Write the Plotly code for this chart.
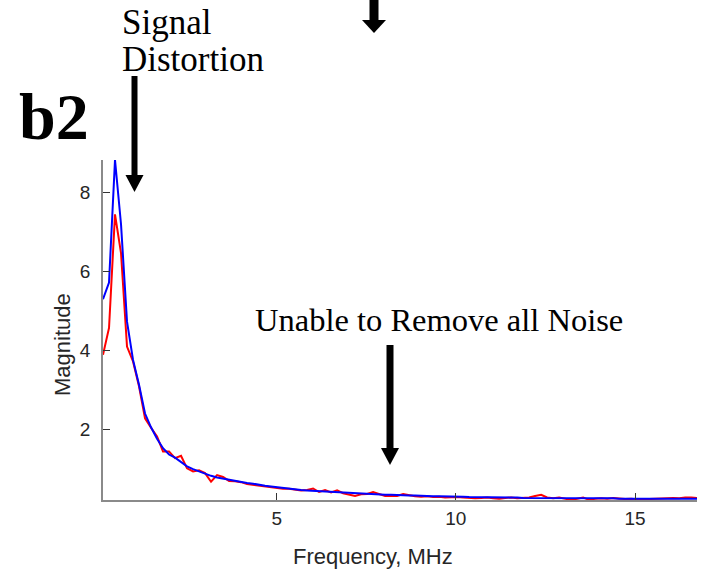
import plotly.graph_objects as go

# ---------------- data ----------------
freq_mhz = [0.153, 0.321, 0.488, 0.656, 0.823, 0.991, 1.158, 1.326, 1.493, 1.661,
            1.828, 1.996, 2.163, 2.331, 2.498, 2.666, 2.833, 3.001, 3.168, 3.336,
            3.503, 3.671, 3.838, 4.006, 4.173, 4.341, 4.508, 4.676, 4.843, 5.011,
            5.178, 5.346, 5.513, 5.681, 5.848, 6.016, 6.183, 6.351, 6.518, 6.686,
            6.853, 7.021, 7.188, 7.356, 7.523, 7.691, 7.858, 8.026, 8.193, 8.361,
            8.528, 8.696, 8.863, 9.031, 9.198, 9.366, 9.533, 9.701, 9.868, 10.036,
            10.203, 10.371, 10.538, 10.706, 10.873, 11.041, 11.208, 11.376, 11.543, 11.711,
            11.878, 12.046, 12.213, 12.381, 12.548, 12.716, 12.883, 13.051, 13.218, 13.386,
            13.553, 13.721, 13.888, 14.056, 14.223, 14.391, 14.558, 14.726, 14.893, 15.061,
            15.228, 15.396, 15.563, 15.731, 15.898, 16.066, 16.233, 16.401, 16.568, 16.736]

red_mag = [3.89, 4.57, 7.45, 6.47, 4.10, 3.72, 3.09, 2.28, 2.04, 1.82,
           1.44, 1.44, 1.27, 1.33, 1.01, 0.93, 0.96, 0.89, 0.67, 0.84,
           0.79, 0.69, 0.68, 0.66, 0.61, 0.59, 0.58, 0.55, 0.53, 0.52,
           0.49, 0.49, 0.47, 0.45, 0.46, 0.50, 0.41, 0.46, 0.40, 0.45,
           0.38, 0.35, 0.31, 0.35, 0.36, 0.41, 0.35, 0.31, 0.31, 0.31,
           0.36, 0.32, 0.30, 0.29, 0.30, 0.28, 0.29, 0.27, 0.28, 0.28,
           0.27, 0.26, 0.25, 0.26, 0.27, 0.25, 0.24, 0.26, 0.27, 0.25,
           0.26, 0.27, 0.31, 0.34, 0.27, 0.25, 0.27, 0.24, 0.21, 0.24,
           0.27, 0.21, 0.24, 0.25, 0.24, 0.26, 0.24, 0.23, 0.24, 0.22,
           0.21, 0.23, 0.24, 0.25, 0.26, 0.26, 0.25, 0.27, 0.27, 0.26]

blue_mag = [5.30, 5.72, 8.83, 7.20, 4.73, 3.76, 3.13, 2.40, 2.05, 1.76,
            1.52, 1.36, 1.28, 1.17, 1.06, 0.99, 0.93, 0.87, 0.82, 0.78,
            0.75, 0.72, 0.69, 0.67, 0.64, 0.62, 0.59, 0.57, 0.55, 0.53,
            0.51, 0.49, 0.47, 0.46, 0.45, 0.44, 0.43, 0.42, 0.41, 0.40,
            0.40, 0.39, 0.38, 0.37, 0.36, 0.35, 0.35, 0.34, 0.34, 0.33,
            0.33, 0.32, 0.32, 0.31, 0.31, 0.30, 0.30, 0.30, 0.29, 0.29,
            0.29, 0.28, 0.28, 0.28, 0.28, 0.27, 0.27, 0.27, 0.27, 0.27,
            0.26, 0.26, 0.26, 0.26, 0.26, 0.26, 0.25, 0.25, 0.25, 0.25,
            0.25, 0.25, 0.25, 0.25, 0.25, 0.25, 0.24, 0.24, 0.24, 0.24,
            0.24, 0.24, 0.24, 0.24, 0.24, 0.24, 0.24, 0.24, 0.24, 0.24]

x_ticks = [5, 10, 15]
y_ticks = [2, 4, 6, 8]

# ---------------- layout helpers ----------------
W, H = 702, 570
L, R, T, B = 103, 697, 160, 500


def xp(px):
    return (px - L) / (R - L)


def yp(py):
    return (B - py) / (B - T)


def arrow(cx, y_start, head_top, tip, shaft_w, head_w):
    return [
        dict(type="rect", xref="paper", yref="paper",
             x0=xp(cx - shaft_w / 2), x1=xp(cx + shaft_w / 2),
             y0=yp(y_start), y1=yp(head_top + 1),
             fillcolor="black", line=dict(width=0)),
        dict(type="path", xref="paper", yref="paper",
             path=(f"M {xp(cx - head_w / 2)} {yp(head_top)} "
                   f"L {xp(cx + head_w / 2)} {yp(head_top)} "
                   f"L {xp(cx)} {yp(tip)} Z"),
             fillcolor="black", line=dict(width=0)),
    ]


fig = go.Figure()
fig.add_trace(go.Scatter(x=freq_mhz, y=red_mag, mode="lines",
                         line=dict(color="#ff0000", width=2), showlegend=False))
fig.add_trace(go.Scatter(x=freq_mhz, y=blue_mag, mode="lines",
                         line=dict(color="#0000ff", width=2), showlegend=False))

shapes = []
shapes += arrow(374, -5, 20, 33, 9, 24)
shapes += arrow(134.5, 76, 175, 192, 6, 18)
shapes += arrow(390, 345, 448, 465, 7, 18)

serif = "Liberation Serif"
sans = "Liberation Sans"


def label(text, px, py, size, family, anchor="center", angle=0, color="black"):
    return dict(text=text, x=xp(px), y=yp(py), xref="paper", yref="paper",
                xanchor=anchor, yanchor="middle", textangle=angle, showarrow=False,
                font=dict(family=family, size=size, color=color))


annotations = [
    label("<b>b2</b>", 17, 116, 66, serif, "left"),
    label("Signal", 120, 22, 35, serif, "left"),
    label("Distortion", 120, 60, 35, serif, "left"),
    label("Unable to Remove all Noise", 439, 320, 32.5, serif),
    label("Magnitude", 62, 345, 22, sans, angle=-90, color="#262626"),
    label("Frequency, MHz", 373, 556, 22, sans, color="#262626"),
]

axis_common = dict(ticks="inside", ticklen=7, tickcolor="#333333", tickwidth=1,
                   showline=True, linecolor="#8a8a8a", linewidth=1.5,
                   showgrid=False, zeroline=False,
                   tickfont=dict(family=sans, size=19, color="#262626"))

fig.update_layout(
    width=W, height=H,
    margin=dict(l=L, r=W - R, t=T, b=H - B, pad=0),
    paper_bgcolor="white", plot_bgcolor="white",
    shapes=shapes, annotations=annotations,
    xaxis=dict(range=[0.153, 16.73], tickvals=x_ticks, ticktext=[str(v) for v in x_ticks],
               ticklabelstandoff=0, **axis_common),
    yaxis=dict(range=[0.207, 8.83], tickvals=y_ticks, ticktext=[str(v) for v in y_ticks],
               ticklabelstandoff=7, **axis_common),
)

fig.write_html("out.html")
